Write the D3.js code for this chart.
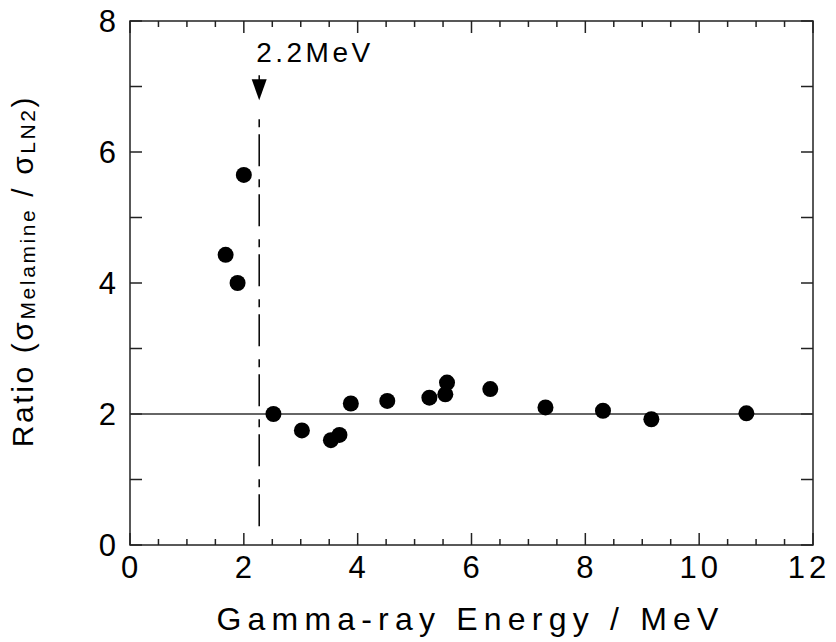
<!DOCTYPE html>
<html>
<head>
<meta charset="utf-8">
<script src="https://cdn.jsdelivr.net/npm/d3@7"></script>
<style>
  body { margin: 0; background: #fff; }
  text { font-family: "Liberation Sans", Arial, sans-serif; fill: #000; }
</style>
</head>
<body>
<div id="chart"></div>
<script>
let energy = [1.68, 1.89, 2.00, 2.52, 3.02, 3.53, 3.68, 3.88, 4.52, 5.26, 5.54, 5.57, 6.33, 7.30, 8.31, 9.16, 10.83];
let ratio  = [4.43, 4.00, 5.65, 2.00, 1.75, 1.60, 1.68, 2.16, 2.20, 2.25, 2.30, 2.48, 2.38, 2.10, 2.05, 1.92, 2.01];
let xTicks = [0, 2, 4, 6, 8, 10, 12];
let yTicks = [0, 2, 4, 6, 8];
let markerEnergy = 2.27; // 2.2MeV line
let refRatio = 2;

const width = 836, height = 642;
const margin = {left: 130, top: 21, right: 23, bottom: 97};
const w = width - margin.left - margin.right;
const h = height - margin.top - margin.bottom;

const x = d3.scaleLinear().domain([0, 12]).range([0, w]);
const y = d3.scaleLinear().domain([0, 8]).range([h, 0]);

const svg = d3.select("#chart").append("svg")
    .attr("width", width)
    .attr("height", height);

const g = svg.append("g").attr("transform", `translate(${margin.left},${margin.top})`);

// frame
g.append("rect")
    .attr("width", w).attr("height", h)
    .attr("fill", "none").attr("stroke", "#222").attr("stroke-width", 1.5);

// ticks (inward, on all four sides)
const xMinor = d3.range(0, 12.01, 0.5);
const yMinor = d3.range(0, 8.01, 1);
xMinor.forEach(v => {
    const len = (v % 2 === 0) ? 12 : 6;
    g.append("line").attr("x1", x(v)).attr("x2", x(v)).attr("y1", h).attr("y2", h - len)
        .attr("stroke", "#222").attr("stroke-width", 1.5);
    g.append("line").attr("x1", x(v)).attr("x2", x(v)).attr("y1", 0).attr("y2", len)
        .attr("stroke", "#222").attr("stroke-width", 1.5);
});
yMinor.forEach(v => {
    g.append("line").attr("x1", 0).attr("x2", 12).attr("y1", y(v)).attr("y2", y(v))
        .attr("stroke", "#222").attr("stroke-width", 1.5);
    g.append("line").attr("x1", w).attr("x2", w - 12).attr("y1", y(v)).attr("y2", y(v))
        .attr("stroke", "#222").attr("stroke-width", 1.5);
});

// tick labels
g.selectAll(".xlab").data(xTicks).enter().append("text")
    .attr("x", d => d === 12 ? x(d) - 4 : x(d) + 1.5)
    .attr("y", h + 33)
    .attr("text-anchor", "middle")
    .attr("font-size", 31)
    .attr("letter-spacing", 4)
    .text(d => d);

g.selectAll(".ylab").data(yTicks).enter().append("text")
    .attr("x", -14)
    .attr("y", d => y(d) + 11)
    .attr("text-anchor", "end")
    .attr("font-size", 31)
    .text(d => d);

// reference line at ratio 2
g.append("line")
    .attr("x1", 0).attr("x2", w)
    .attr("y1", y(refRatio)).attr("y2", y(refRatio))
    .attr("stroke", "#333").attr("stroke-width", 1.5);

// 2.2 MeV dash-dot line
g.append("line")
    .attr("x1", x(markerEnergy)).attr("x2", x(markerEnergy))
    .attr("y1", y(6.5)).attr("y2", y(0.2))
    .attr("stroke", "#000").attr("stroke-width", 1.5)
    .attr("stroke-dasharray", "8,7,32,13");

// arrow
g.append("line")
    .attr("x1", x(markerEnergy)).attr("x2", x(markerEnergy))
    .attr("y1", y(7.17)).attr("y2", y(7.0))
    .attr("stroke", "#000").attr("stroke-width", 1.5);
g.append("path")
    .attr("d", `M${x(markerEnergy) - 7.5},${y(7.11)} L${x(markerEnergy) + 7.5},${y(7.11)} L${x(markerEnergy)},${y(6.79)} Z`)
    .attr("fill", "#000");

g.append("text")
    .attr("x", x(markerEnergy) - 3)
    .attr("y", y(7.37))
    .attr("font-size", 28)
    .attr("letter-spacing", 3.5)
    .text("2.2MeV");

// points
g.selectAll("circle").data(energy).enter().append("circle")
    .attr("cx", (d, i) => x(d))
    .attr("cy", (d, i) => y(ratio[i]))
    .attr("r", 8)
    .attr("fill", "#000");

// axis titles
svg.append("text")
    .attr("x", margin.left + w / 2 - 1)
    .attr("y", 630)
    .attr("text-anchor", "middle")
    .attr("font-size", 32)
    .attr("letter-spacing", 6.2)
    .text("Gamma-ray Energy / MeV");

const yt = svg.append("text")
    .attr("transform", `translate(33,271) rotate(-90)`)
    .attr("text-anchor", "middle")
    .attr("font-size", 30)
    .attr("letter-spacing", 2.6);
yt.append("tspan").text("Ratio (σ");
yt.append("tspan").attr("font-size", 21).attr("dy", 2).text("Melamine");
yt.append("tspan").attr("dy", -2).text(" / σ");
yt.append("tspan").attr("font-size", 21).attr("dy", 2).text("LN2");
yt.append("tspan").attr("dy", -2).text(")");
</script>
</body>
</html>
